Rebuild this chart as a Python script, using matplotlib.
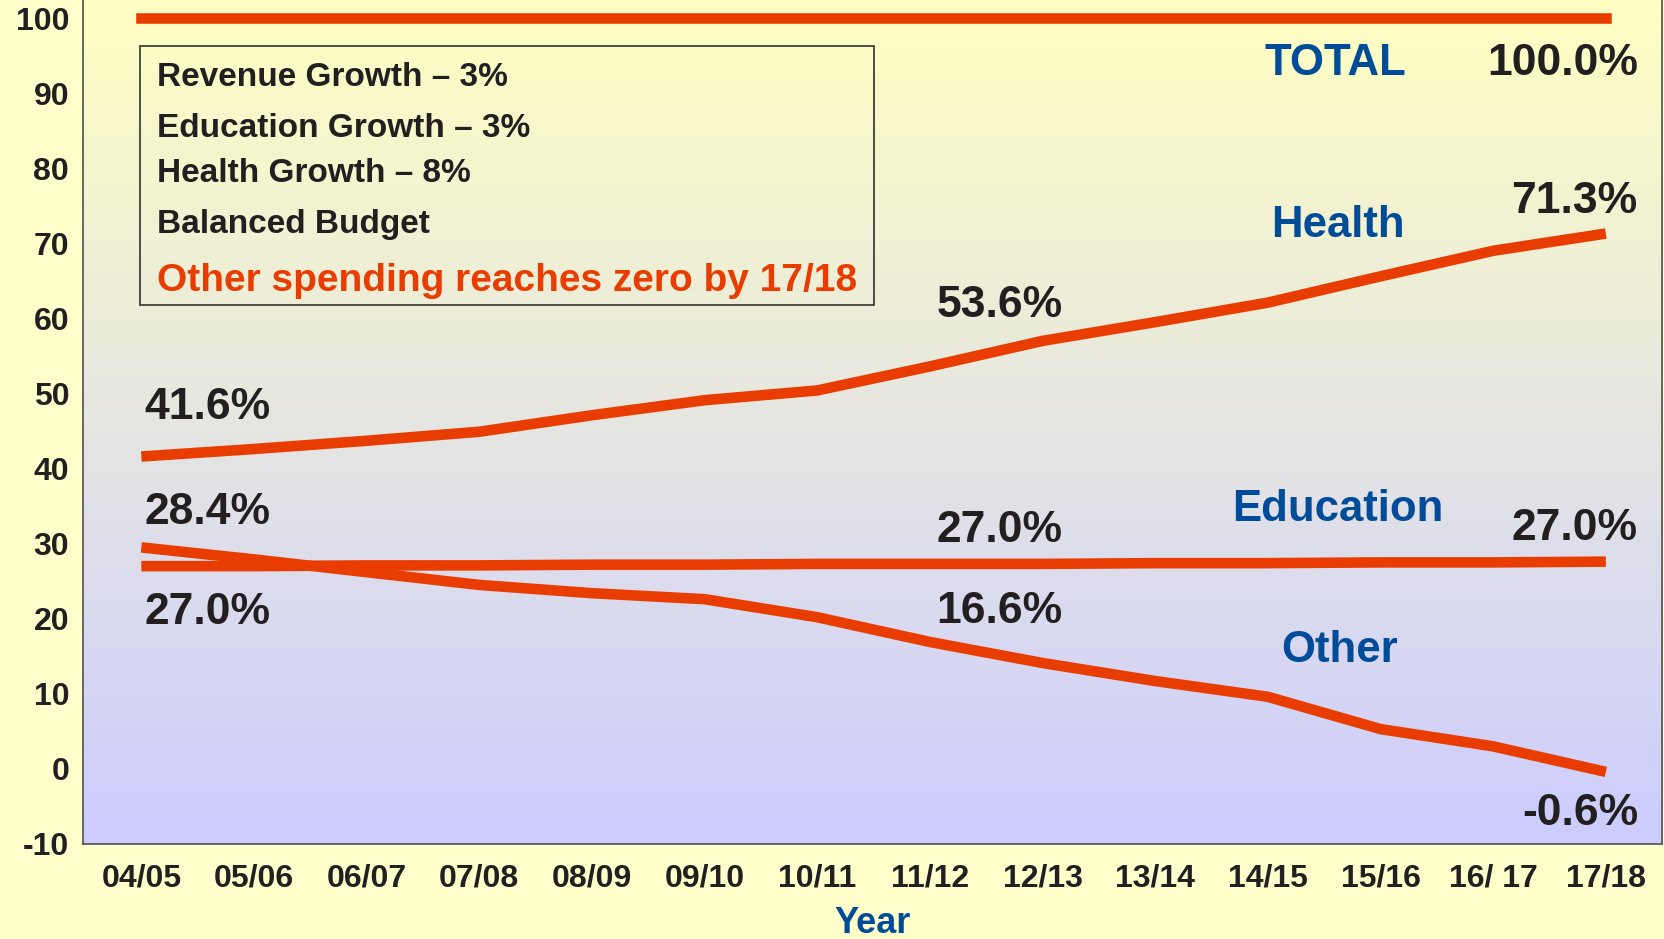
import numpy as np
import matplotlib.pyplot as plt
from matplotlib.colors import LinearSegmentedColormap

plt.rcParams['font.family'] = ['Liberation Sans', 'DejaVu Sans']
plt.rcParams['font.weight'] = 'bold'
plt.rcParams['axes.unicode_minus'] = False

years = ['04/05', '05/06', '06/07', '07/08', '08/09', '09/10', '10/11',
         '11/12', '12/13', '13/14', '14/15', '15/16', '16/ 17', '17/18']
total = [100.0] * 14
health = [41.6, 42.6, 43.7, 44.9, 47.1, 49.1, 50.4, 53.6, 57.0, 59.5, 62.1, 65.6, 69.0, 71.3]
education = [27.0, 27.0, 27.1, 27.1, 27.2, 27.2, 27.3, 27.3, 27.3, 27.4, 27.4, 27.5, 27.5, 27.6]
other = [29.5, 27.9, 26.2, 24.5, 23.4, 22.6, 20.2, 16.9, 14.1, 11.7, 9.6, 5.3, 3.0, -0.4]

notes = ['Revenue Growth \u2013 3%', 'Education Growth \u2013 3%',
         'Health Growth \u2013 8%', 'Balanced Budget']
red_note = 'Other spending reaches zero by 17/18'

line_col = '#E83C00'
blue = '#004C99'
dark = '#231F20'

fig = plt.figure(figsize=(16.65, 9.39), dpi=100, facecolor='#FFFFCC')
ax = fig.add_axes([0.0499, 0.1012, 0.9484, 0.8988])

# background gradient yellow -> lavender
cmap = LinearSegmentedColormap.from_list('bg', ['#CCCCFF', '#E6E6E2', '#FFFFC2'])
grad = np.linspace(0, 1, 256).reshape(-1, 1)
ax.imshow(grad, aspect='auto', cmap=cmap, origin='lower',
          extent=[0, 1, 0, 1], transform=ax.transAxes, zorder=0)

x = np.arange(len(years))
ax.plot(x, total, color=line_col, lw=7.6, solid_capstyle='projecting', zorder=3)
for s in [health, education, other]:
    ax.plot(x, s, color=line_col, lw=7.6, solid_capstyle='butt', zorder=3)

ax.set_xlim(-0.517, 13.5)
ax.set_ylim(-10, 102.4)
ax.set_xticks(x)
ax.set_xticklabels(years)
ax.set_yticks(np.arange(-10, 101, 10))
ax.tick_params(length=0, labelsize=23, labelcolor=dark)
ax.tick_params(axis='x', pad=14)
ax.tick_params(axis='y', pad=10)
for lab in ax.get_xticklabels() + ax.get_yticklabels():
    lab.set_fontweight('bold')
ax.spines['top'].set_visible(False)
for sp in ['left', 'bottom', 'right']:
    ax.spines[sp].set_color('#505050')
    ax.spines[sp].set_linewidth(1.2)

fig.text(0.524, 0.016, 'Year', color=blue, fontsize=26, fontweight='bold',
         ha='center', va='center')

# series names
for name, xx, yy in [('TOTAL', 10.6, 93.9), ('Health', 10.62, 72.4),
                     ('Education', 10.62, 34.5), ('Other', 10.64, 15.8)]:
    ax.text(xx, yy, name, color=blue, fontsize=31.5, fontweight='bold',
            ha='center', va='center', zorder=4)

# value labels
for txt, xx, yy in [('100.0%', 12.62, 93.9), ('71.3%', 12.72, 75.5),
                    ('53.6%', 7.62, 61.7), ('41.6%', 0.59, 48.1),
                    ('28.4%', 0.59, 34.2), ('27.0%', 7.62, 31.8),
                    ('27.0%', 12.72, 32.0), ('27.0%', 0.59, 20.8),
                    ('16.6%', 7.62, 20.9), ('-0.6%', 12.77, -5.9)]:
    ax.text(xx, yy, txt, color=dark, fontsize=32, fontweight='bold',
            ha='center', va='center', zorder=4)

# note box
W, H = 1665, 939
box = plt.Rectangle((140 / W, 1 - 305 / H), (874 - 140) / W, (305 - 46) / H,
                    transform=fig.transFigure, facecolor='none',
                    edgecolor='#303030', lw=1.2, zorder=5)
fig.patches.append(box)
for t, yc in zip(notes, [77, 128, 174, 224]):
    fig.text(157 / W, 1 - yc / H, t, color=dark, fontsize=24, fontweight='bold',
             ha='left', va='center')
fig.text(157 / W, 1 - 281 / H, red_note, color=line_col, fontsize=28,
         fontweight='bold', ha='left', va='center')

fig.savefig('out.png', dpi=100, facecolor=fig.get_facecolor())
